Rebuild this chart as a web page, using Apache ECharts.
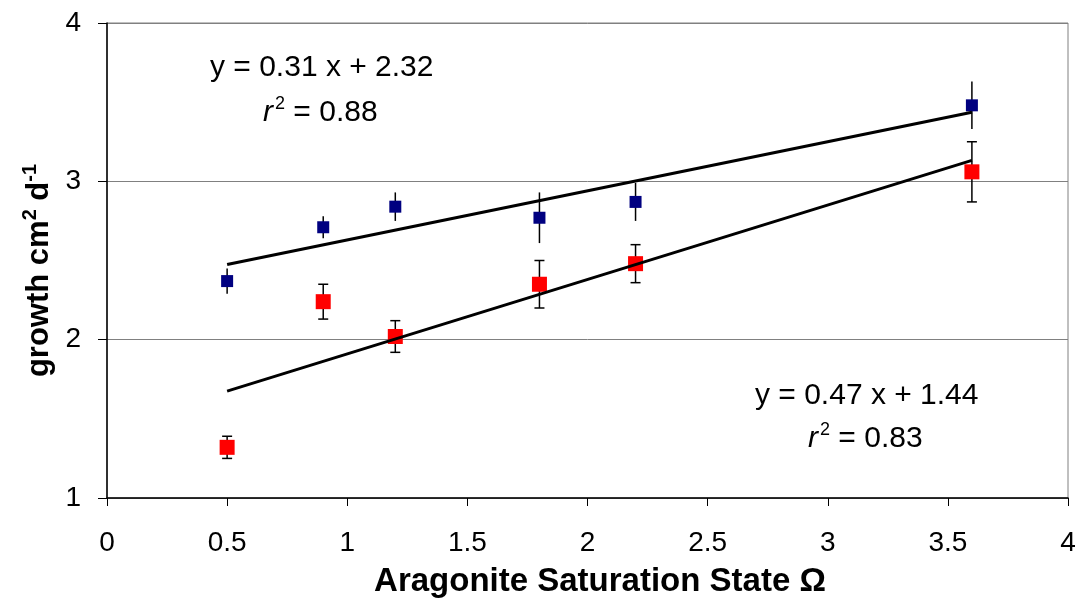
<!DOCTYPE html>
<html>
<head>
<meta charset="utf-8">
<script src="https://cdn.jsdelivr.net/npm/echarts@6/dist/echarts.min.js"></script>
<style>html,body{margin:0;padding:0;background:#fff}#c{width:1080px;height:598px}</style>
</head>
<body>
<div id="c"></div>
<script>
// Data
var xValues = [0.5, 0.9, 1.2, 1.8, 2.2, 3.6];
var blueY = [2.37, 2.71, 2.84, 2.77, 2.87, 3.48];
var blueErr = [0.08, 0.07, 0.09, 0.16, 0.12, 0.15];
var redY = [1.32, 2.24, 2.02, 2.35, 2.48, 3.06];
var redErr = [0.07, 0.11, 0.10, 0.15, 0.12, 0.19];
var blueTrend = [[0.5, 2.475], [3.6, 3.436]];
var redTrend = [[0.5, 1.675], [3.6, 3.132]];
var xTicks = [0, 0.5, 1, 1.5, 2, 2.5, 3, 3.5, 4];
var yTicks = [1, 2, 3, 4];

var font = '"Liberation Sans", Arial, sans-serif';

function pts(ys) { return xValues.map(function (x, i) { return [x, ys[i]]; }); }
function errData(ys, es) { return xValues.map(function (x, i) { return [x, ys[i] - es[i], ys[i] + es[i]]; }); }

function errRender(cap) {
  return function (params, api) {
    var lo = api.coord([api.value(0), api.value(1)]);
    var hi = api.coord([api.value(0), api.value(2)]);
    var children = [{
      type: 'line', shape: { x1: lo[0], y1: lo[1], x2: hi[0], y2: hi[1] },
      style: { stroke: '#000', lineWidth: 1.5 }
    }];
    if (cap) {
      children.push({ type: 'line', shape: { x1: lo[0] - cap, y1: lo[1], x2: lo[0] + cap, y2: lo[1] }, style: { stroke: '#000', lineWidth: 1.5 } });
      children.push({ type: 'line', shape: { x1: hi[0] - cap, y1: hi[1], x2: hi[0] + cap, y2: hi[1] }, style: { stroke: '#000', lineWidth: 1.5 } });
    }
    return { type: 'group', children: children };
  };
}

var eqRich = {
  i: { fontStyle: 'italic', fontSize: 30, fontFamily: font, lineHeight: 36, color: '#000' },
  s: { fontSize: 18, fontFamily: font, verticalAlign: 'top', lineHeight: 18, color: '#000', padding: [0, 0, 0, 2] },
  n: { fontSize: 30, fontFamily: font, lineHeight: 36, color: '#000' }
};

var chart = echarts.init(document.getElementById('c'), null, { renderer: 'canvas' });
chart.setOption({
  animation: false,
  backgroundColor: '#fff',
  grid: { left: 107, right: 12, top: 23, bottom: 100, show: true, borderColor: '#808080', borderWidth: 1, outerBoundsMode: 'none', containLabel: false },
  xAxis: {
    type: 'value', min: 0, max: 4, interval: 0.5,
    axisLine: { lineStyle: { color: '#000', width: 1.5 } },
    axisTick: { show: true, length: 8, lineStyle: { color: '#000' } },
    splitLine: { show: false },
    axisLabel: { color: '#000', fontSize: 28, fontFamily: font, margin: 31 },
    name: 'Aragonite Saturation State Ω',
    nameLocation: 'middle', nameGap: 67,
    nameTextStyle: { color: '#000', fontSize: 33, fontWeight: 'bold', fontFamily: font, padding: [0, 0, 0, 25] }
  },
  yAxis: {
    type: 'value', min: 1, max: 4, interval: 1,
    axisLine: { lineStyle: { color: '#000', width: 1.5 } },
    axisTick: { show: true, length: 9, lineStyle: { color: '#000' } },
    splitLine: { show: true, lineStyle: { color: '#808080', width: 1 } },
    axisLabel: { color: '#000', fontSize: 28, fontFamily: font, margin: 26 },
    name: '{b|growth cm}{s|2}{b| d}{s|-1}',
    nameLocation: 'middle', nameGap: 48, nameRotate: 90,
    nameTextStyle: {
      padding: [0, 20, 0, 0],
      rich: {
        b: { fontSize: 31, fontWeight: 'bold', fontFamily: font, color: '#000', lineHeight: 38 },
        s: { fontSize: 20, fontWeight: 'bold', fontFamily: font, color: '#000', verticalAlign: 'top', lineHeight: 24 }
      }
    }
  },
  series: [
    { type: 'custom', data: errData(blueY, blueErr), renderItem: errRender(0), z: 2, encode: { x: 0, y: [1, 2] } },
    { type: 'custom', data: errData(redY, redErr), renderItem: errRender(5), z: 2, encode: { x: 0, y: [1, 2] } },
    { type: 'scatter', data: pts(blueY), symbol: 'rect', symbolSize: 12, itemStyle: { color: '#000080', opacity: 1 }, z: 3 },
    { type: 'scatter', data: pts(redY), symbol: 'rect', symbolSize: 15, itemStyle: { color: '#ff0000', opacity: 1 }, z: 3 },
    { type: 'line', data: blueTrend, symbol: 'none', lineStyle: { color: '#000', width: 3 }, z: 4 },
    { type: 'line', data: redTrend, symbol: 'none', lineStyle: { color: '#000', width: 3 }, z: 4 }
  ],
  graphic: [
    { type: 'text', left: 210, top: 53, style: { text: 'y = 0.31 x + 2.32', font: '30px ' + font, fill: '#000' } },
    { type: 'text', left: 263, top: 95, style: { text: '{i|r}{s|2}{n| = 0.88}', rich: eqRich, fill: '#000' } },
    { type: 'text', left: 755, top: 381, style: { text: 'y = 0.47 x + 1.44', font: '30px ' + font, fill: '#000' } },
    { type: 'text', left: 808, top: 421, style: { text: '{i|r}{s|2}{n| = 0.83}', rich: eqRich, fill: '#000' } }
  ]
});
</script>
</body>
</html>
